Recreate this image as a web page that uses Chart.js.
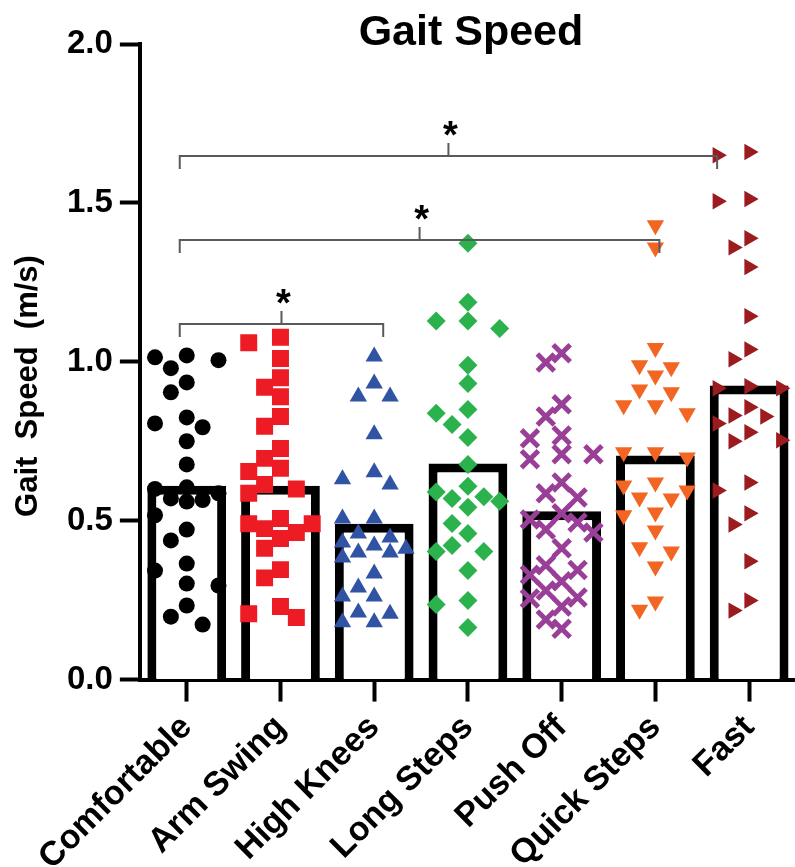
<!DOCTYPE html>
<html>
<head>
<meta charset="utf-8">
<title>Gait Speed</title>
<script src="https://cdn.jsdelivr.net/npm/chart.js@4.4.1/dist/chart.umd.min.js"></script>
<style>
  html, body { margin:0; padding:0; background:#fff; overflow:hidden; }
  canvas { display:block; }
</style>
</head>
<body>
<!-- canvas is a little larger than the 795x867 view so the plot can run to the right/bottom edge -->
<canvas id="gait" width="813" height="890"></canvas>
<script>
/* ---- data ---- */
const conditions = ['Comfortable','Arm Swing','High Knees','Long Steps','Push Off','Quick Steps','Fast'];
const meanSpeed  = [0.61, 0.61, 0.49, 0.68, 0.53, 0.705, 0.925];
const yTicks     = [0, 0.5, 1.0, 1.5, 2.0];

const comfortable = [1.005,1.02,1.014,0.98,0.935,0.904,0.794,0.825,0.806,0.75,0.677,0.605,0.60,0.586,0.565,0.57,0.56,0.517,0.472,0.438,0.365,0.343,0.296,0.302,0.233,0.198,0.173];
const armSwing    = [1.06,1.077,1.01,0.95,0.92,0.89,0.828,0.797,0.727,0.696,0.665,0.655,0.614,0.586,0.60,0.475,0.49,0.507,0.463,0.444,0.49,0.413,0.346,0.32,0.23,0.195,0.207];
const highKnees   = [1.017,0.932,0.891,0.891,0.772,0.652,0.614,0.63,0.507,0.507,0.46,0.422,0.447,0.412,0.40,0.431,0.384,0.40,0.334,0.29,0.261,0.261,0.211,0.207,0.18,0.18];
const longSteps   = [1.373,1.187,1.128,1.128,1.105,0.989,0.932,0.85,0.838,0.803,0.762,0.677,0.608,0.59,0.575,0.57,0.561,0.542,0.491,0.46,0.422,0.403,0.403,0.343,0.249,0.236,0.164];
const pushOff     = [0.998,1.027,0.866,0.828,0.759,0.768,0.693,0.709,0.709,0.62,0.573,0.586,0.523,0.504,0.463,0.472,0.494,0.413,0.36,0.345,0.33,0.309,0.28,0.255,0.258,0.23,0.189,0.16];
const quickSteps  = [1.43,1.36,1.043,0.989,0.957,0.983,0.913,0.904,0.863,0.863,0.838,0.699,0.715,0.715,0.611,0.62,0.57,0.595,0.573,0.526,0.517,0.469,0.403,0.416,0.356,0.22,0.246];
const fast        = [1.65,1.66,1.505,1.512,1.36,1.389,1.298,1.143,1.008,1.039,0.917,0.923,0.917,0.831,0.857,0.806,0.778,0.828,0.75,0.753,0.595,0.62,0.488,0.523,0.372,0.217,0.249];

// significance comparisons (category index pairs) and bracket heights in m/s
const sigFrom  = [0, 0, 0];
const sigTo    = [2, 5, 6];
const sigLevel = [1.118, 1.383, 1.647];
const sigLabel = ['*', '*', '*'];

/* ---- styling ---- */
const FONT = '"Liberation Sans", Arial, Helvetica, sans-serif';
const groups = [
  { values: comfortable, color:'#000000', style:'circle',   radius:8 },
  { values: armSwing,    color:'#ED1C24', style:'rect',     radius:12 },
  { values: highKnees,   color:'#3153A4', style:'triangle', radius:10 },
  { values: longSteps,   color:'#2BB24C', style:'rectRot',  radius:9.5 },
  { values: pushOff,     color:'#9A3F98', style:'crossRot', radius:12, line:5 },
  { values: quickSteps,  color:'#F26522', style:'triangle', radius:10, rot:180 },
  { values: fast,        color:'#9B1B1F', style:'triangle', radius:9.5, rot:90 }
];

// simple beeswarm: spread points sideways in fixed columns when they would overlap
function swarm(values, idx){
  const STEP = 16, D = 18, PX_CAT = 94.5, PX_UNIT = 317.5;
  const slots = [0, -1, 1, -2, 2];
  const placed = [];
  const out = new Array(values.length);
  const order = values.map((v, i) => i).sort((a, b) => values[b] - values[a]);
  order.forEach(i => {
    const py = values[i] * PX_UNIT;
    let pick = 0, bestGap = -1;
    for (const s of slots){
      const px = s * STEP;
      let gap = Infinity;
      placed.forEach(p => { gap = Math.min(gap, Math.hypot(p.x - px, p.y - py)); });
      if (gap >= D){ pick = s; break; }
      if (gap > bestGap){ bestGap = gap; pick = s; }
    }
    placed.push({ x: pick * STEP, y: py });
    out[i] = { x: idx + pick * STEP / PX_CAT, y: values[i] };
  });
  return out;
}

const scatterSets = groups.map((g, i) => ({
  type: 'scatter',
  label: conditions[i],
  data: swarm(g.values, i),
  xAxisID: 'xs',
  yAxisID: 'y',
  pointStyle: g.style,
  pointRadius: g.radius,
  pointRotation: g.rot || 0,
  backgroundColor: g.color,
  borderColor: g.color,
  borderWidth: g.line || 0,
  order: 1
}));

// chart title and y-axis title, placed where the original figure has them
const captions = {
  id: 'captions',
  afterDraw(chart){
    const { ctx, chartArea } = chart;
    ctx.save();
    ctx.fillStyle = '#000';
    ctx.textAlign = 'center';
    ctx.font = 'bold 43px ' + FONT;
    ctx.textBaseline = 'alphabetic';
    ctx.fillText('Gait Speed', (chartArea.left + chartArea.right) / 2 + 3, 45);
    ctx.font = 'bold 31px ' + FONT;
    ctx.textBaseline = 'middle';
    ctx.translate(28, 386);
    ctx.rotate(-Math.PI / 2);
    ctx.fillText('Gait  Speed  (m/s)', 0, 0);
    ctx.restore();
  }
};

const sigBrackets = {
  id: 'sigBrackets',
  afterDatasetsDraw(chart, args, opts){
    const { ctx } = chart;
    const xs = chart.scales.x, ys = chart.scales.y;
    ctx.save();
    ctx.strokeStyle = '#5a5a5a';
    ctx.lineWidth = 2;
    sigFrom.forEach((a, k) => {
      const nudge = opts.nudge[k] || [0, 0];
      const x1 = xs.getPixelForValue(a) + nudge[0];
      const x2 = xs.getPixelForValue(sigTo[k]) + nudge[1];
      const yy = Math.round(ys.getPixelForValue(sigLevel[k]));
      const xm = (x1 + x2) / 2;
      ctx.beginPath();
      ctx.moveTo(x1, yy + 13);
      ctx.lineTo(x1, yy);
      ctx.lineTo(x2, yy);
      ctx.lineTo(x2, yy + 13);
      ctx.moveTo(xm, yy);
      ctx.lineTo(xm, yy - 13);
      ctx.stroke();
      ctx.fillStyle = '#000';
      ctx.font = 'bold 38px ' + FONT;
      ctx.textAlign = 'center';
      ctx.textBaseline = 'alphabetic';
      ctx.fillText(sigLabel[k], xm + 2, yy - 8);
    });
    ctx.restore();
  }
};

new Chart(document.getElementById('gait'), {
  type: 'bar',
  data: {
    labels: conditions,
    datasets: [
      {
        type: 'bar',
        label: 'Mean',
        data: meanSpeed,
        backgroundColor: '#ffffff',
        borderColor: '#000000',
        borderWidth: 9,
        barPercentage: 0.84,
        categoryPercentage: 1,
        grouped: false,
        xAxisID: 'x',
        yAxisID: 'y',
        order: 10
      },
      ...scatterSets
    ]
  },
  options: {
    responsive: false,
    animation: false,
    events: [],
    layout: { padding: { top: 44, left: 60, right: 0, bottom: 6 } },
    plugins: {
      legend: { display: false },
      tooltip: { enabled: false },
      title: { display: false },
      sigBrackets: { nudge: [[-7, 9], [-7, 4], [-7, -32]] }
    },
    scales: {
      x: {
        type: 'category',
        offset: true,
        border: { display: true, color: '#000', width: 4 },
        grid: { offset: false, drawOnChartArea: false, drawTicks: true, tickLength: 22, tickWidth: 4, tickColor: '#000' },
        ticks: { color: '#000', font: { family: FONT, size: 34, weight: 'bold' }, minRotation: 45, maxRotation: 45, autoSkip: false, padding: 6 }
      },
      xs: { type: 'linear', display: false, offset: false, grid: { offset: false }, min: -0.5, max: 6.5 },
      y: {
        min: 0,
        max: 2,
        afterBuildTicks: s => { s.ticks = yTicks.map(v => ({ value: v })); },
        border: { display: true, color: '#000', width: 4 },
        grid: { drawOnChartArea: false, drawTicks: true, tickLength: 20, tickWidth: 4, tickColor: '#000' },
        ticks: { color: '#000', font: { family: FONT, size: 33, weight: 'bold' }, padding: 7, callback: v => Number(v).toFixed(1) },
        title: { display: false }
      }
    }
  },
  plugins: [sigBrackets, captions]
});
</script>
</body>
</html>
